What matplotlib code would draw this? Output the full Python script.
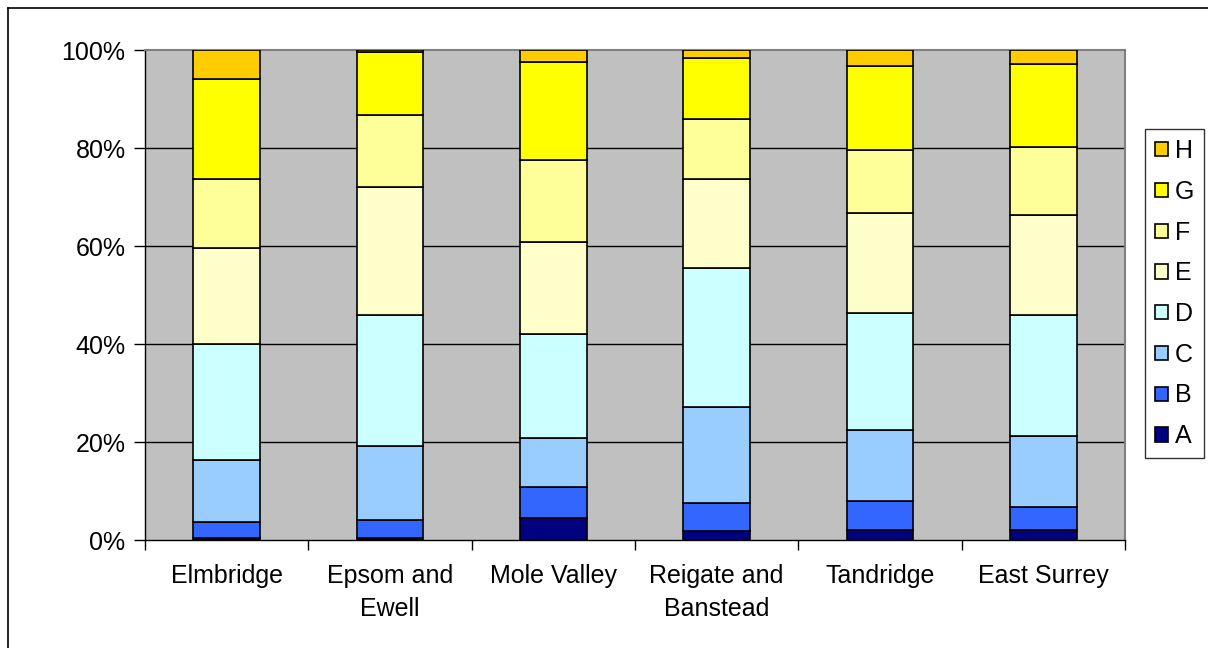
import matplotlib
matplotlib.use("Agg")
import matplotlib.pyplot as plt
from matplotlib.lines import Line2D
from matplotlib.patches import Patch
import numpy as np

plt.rcParams['font.family'] = ['Liberation Sans', 'DejaVu Sans']

areas = ["Elmbridge", "Epsom and\nEwell", "Mole Valley", "Reigate and\nBanstead",
         "Tandridge", "East Surrey"]
bands = ["A", "B", "C", "D", "E", "F", "G", "H"]

# Share of dwellings in each band (%), per area
band_A = [0.5, 0.5, 4.4, 1.8, 2.1, 2.0]
band_B = [3.1, 3.6, 6.5, 5.8, 5.9, 4.8]
band_C = [12.8, 15.1, 9.9, 19.6, 14.4, 14.4]
band_D = [23.6, 26.8, 21.2, 28.4, 24.0, 24.8]
band_E = [19.6, 26.0, 18.8, 18.0, 20.4, 20.4]
band_F = [14.0, 14.8, 16.8, 12.3, 12.8, 13.9]
band_G = [20.4, 12.7, 20.0, 12.4, 17.2, 16.9]
band_H = [6.0, 0.5, 2.4, 1.7, 3.2, 2.8]

series = [band_A, band_B, band_C, band_D, band_E, band_F, band_G, band_H]
colors = ["#000080", "#3366FF", "#99CCFF", "#CCFFFF",
          "#FFFFCC", "#FFFF99", "#FFFF00", "#FFCC00"]

W, H = 1208, 648
fig = plt.figure(figsize=(W / 100, H / 100), dpi=100)
ax = fig.add_axes([145 / W, 1 - 540 / H, 980 / W, 490 / H])
ax.set_facecolor("#C0C0C0")

x = np.arange(len(areas))
bottom = np.zeros(len(areas))
for vals, col, name in zip(series, colors, bands):
    v = np.array(vals, dtype=float)
    ax.bar(x, v, width=0.41, bottom=bottom, color=col, edgecolor="black",
           linewidth=1.2, label=name, zorder=3)
    bottom += v

ax.set_xlim(-0.5, len(areas) - 0.5)
ax.set_ylim(0, 100)
ax.set_yticks([0, 20, 40, 60, 80, 100])
ax.set_yticklabels([f"{t}%" for t in [0, 20, 40, 60, 80, 100]])
for t in [20, 40, 60, 80]:
    ax.axhline(t, color="black", linewidth=1.0, zorder=1)

ax.set_xticks(x)
ax.set_xticklabels(areas, linespacing=1.5)
ax.set_xticks(np.arange(-0.5, len(areas)), minor=True)
ax.tick_params(axis="x", which="major", length=0, pad=17, labelsize=18)
ax.tick_params(axis="x", which="minor", length=7, width=1, direction="out")
ax.tick_params(axis="y", length=8, width=1, direction="out", pad=6, labelsize=18)

for side in ["top", "right"]:
    ax.spines[side].set_color("#808080")
    ax.spines[side].set_linewidth(1.5)
for side in ["left", "bottom"]:
    ax.spines[side].set_color("black")
    ax.spines[side].set_linewidth(1.0)

handles = [Patch(facecolor=c, edgecolor="black", linewidth=1.2) for c in colors][::-1]
leg = fig.legend(handles, bands[::-1], loc="upper left",
                 bbox_to_anchor=(1145 / W, 1 - 129 / H), borderaxespad=0,
                 fontsize=18, frameon=True, fancybox=False, edgecolor="black",
                 handlelength=0.5, handleheight=0.5, handletextpad=0.3,
                 labelspacing=0.67, borderpad=0.4)
leg.get_frame().set_linewidth(1.0)

# outer frame around the chart
fig.add_artist(Line2D([8 / W, 8 / W], [0, 1 - 8 / H], transform=fig.transFigure,
                      color="black", linewidth=1.2))
fig.add_artist(Line2D([8 / W, 1], [1 - 8 / H, 1 - 8 / H], transform=fig.transFigure,
                      color="black", linewidth=1.2))

fig.savefig("out.png", dpi=100)
